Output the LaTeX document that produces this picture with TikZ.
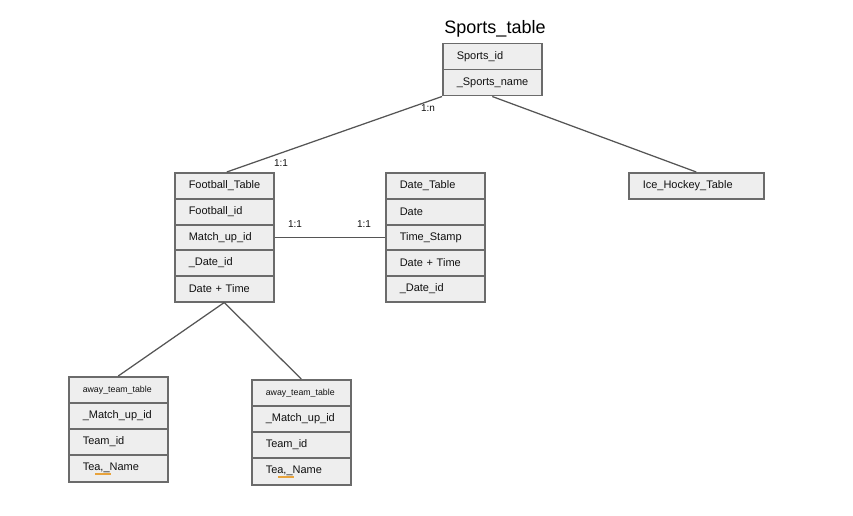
\documentclass[tikz,border=0pt]{standalone}
\usepackage{fontspec}
\setmainfont{Liberation Sans}
\usetikzlibrary{calc}
\definecolor{cellfill}{HTML}{EEEEEE}
\definecolor{cellline}{HTML}{6B6B6B}
\definecolor{linkline}{HTML}{555555}
\definecolor{inktext}{HTML}{111111}
\definecolor{spellmark}{HTML}{E8A33C}
\begin{document}
\begin{tikzpicture}[x=1pt,y=-1pt,
  cell/.style={draw=cellline, fill=cellfill, line width=1.5pt,
    minimum height=26pt, anchor=north west, inner xsep=14pt, inner ysep=0pt,
    text width=71pt, align=left, text=inktext,
    font=\fontsize{11}{13}\selectfont},
  widecell/.style={cell, text width=107pt},
  smallcell/.style={cell, font=\fontsize{8.8}{10}\selectfont},
  link/.style={draw=linkline, line width=1.25pt},
  card/.style={text=inktext, font=\fontsize{10}{12}\selectfont}]
  \useasboundingbox (0,0) rectangle (853,516);

  % Sports table
  \node[text=black, font=\fontsize{18}{20}\selectfont] (title) at (495,29) {Sports\_table};
  \node[cell] (sp1) at (442,43) {Sports\_id};
  \node[cell] (sp2) at (442,69) {\_Sports\_name};

  % Football table
  \node[cell] (fb1) at (174,172) {Football\_Table};
  \node[cell] (fb2) at (174,198) {Football\_id};
  \node[cell] (fb3) at (174,224) {Match\_up\_id};
  \node[cell] (fb4) at (174,249) {\_Date\_id};
  \node[cell] (fb5) at (174,275) {Date + Time};

  % Date table
  \node[cell] (dt1) at (385,172) {Date\_Table};
  \node[cell] (dt2) at (385,198) {Date};
  \node[cell] (dt3) at (385,224) {Time\_Stamp};
  \node[cell] (dt4) at (385,249) {Date + Time};
  \node[cell] (dt5) at (385,275) {\_Date\_id};

  % Ice hockey table
  \node[widecell] (ih) at (628,172) {Ice\_Hockey\_Table};

  % Team tables
  \node[smallcell] (al1) at (68,376) {away\_team\_table};
  \node[cell] (al2) at (68,402) {\_Match\_up\_id};
  \node[cell] (al3) at (68,428) {Team\_id};
  \node[cell, minimum height=27pt] (al4) at (68,454) {Tea,\_Name};

  \node[smallcell] (ar1) at (251,379) {away\_team\_table};
  \node[cell] (ar2) at (251,405) {\_Match\_up\_id};
  \node[cell] (ar3) at (251,431) {Team\_id};
  \node[cell, minimum height=27pt] (ar4) at (251,457) {Tea,\_Name};

  % spell-check marks under the names
  \coordinate (msl) at (95,474);
  \coordinate (msr) at (278,477);
  \draw[spellmark, line width=1.3pt] (msl) -- ++(16,0);
  \draw[spellmark, line width=1.3pt] (msr) -- ++(16,0);

  % Connectors
  \draw[link] (sp2.south west) -- ($(fb1.north)+(2.5,0)$);
  \draw[link] (sp2.south) -- (ih.north);
  \draw[link] (fb3.east) -- (dt3.west);
  \draw[link] (fb5.south) -- (al1.north);
  \draw[link] (fb5.south) -- (ar1.north);

  % Cardinalities
  \node[card] (c1) at (428,108) {1:n};
  \node[card] (c2) at (281,163) {1:1};
  \node[card] (c3) at (295,224) {1:1};
  \node[card] (c4) at (364,224) {1:1};
\end{tikzpicture}
\end{document}
